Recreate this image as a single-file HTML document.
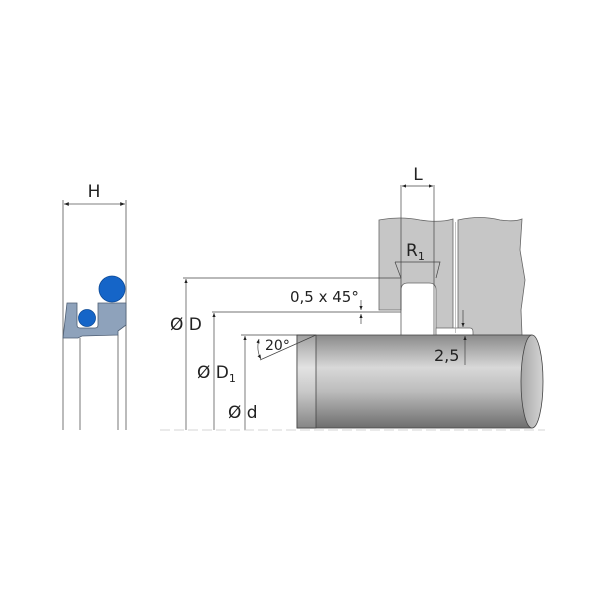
<!DOCTYPE html>
<html><head><style>body{margin:0;background:#fff}svg{display:block}text{font-family:"DejaVu Sans","Liberation Sans",sans-serif;fill:#222}</style></head>
<body>
<svg width="600" height="600" viewBox="0 0 600 600" xmlns="http://www.w3.org/2000/svg">
<defs>
<linearGradient id="g" x1="0" y1="0" x2="0" y2="1">
<stop offset="0" stop-color="#8a8a8a"/><stop offset="0.35" stop-color="#d8d8d8"/><stop offset="0.6" stop-color="#bdbdbd"/><stop offset="1" stop-color="#6e6e6e"/></linearGradient>
<linearGradient id="g2" x1="0" y1="0" x2="0" y2="1">
<stop offset="0" stop-color="#a0a0a0"/><stop offset="0.35" stop-color="#e2e2e2"/><stop offset="0.6" stop-color="#cacaca"/><stop offset="1" stop-color="#858585"/></linearGradient>
<linearGradient id="ge" x1="0" y1="0" x2="1" y2="0"><stop offset="0" stop-color="#a8a8a8"/><stop offset="1" stop-color="#d4d4d4"/></linearGradient>
<marker id="a" viewBox="0 0 10 10" refX="10" refY="5" markerWidth="6" markerHeight="6" orient="auto-start-reverse"><path d="M0,1L10,5L0,9z" fill="#222"/></marker>
</defs>
<g stroke="#555" stroke-width="0.8" fill="none">
<line x1="63" y1="200" x2="63" y2="430"/><line x1="126" y1="200" x2="126" y2="430"/>
<line x1="80" y1="338" x2="80" y2="430"/><line x1="118" y1="335" x2="118" y2="430"/>
<line x1="64" y1="204" x2="125" y2="204" marker-start="url(#a)" marker-end="url(#a)"/>
</g>
<text x="94" y="197" font-size="17" text-anchor="middle">H</text>
<path d="M67,303 L77,303 L77,325 Q77,328 80,328 L95,328 Q98,328 98,325 L98,303 L126,303 L126,325 L118,331 L118,335 L82,336 L78,338 L63,338 Z" fill="#8ea2bb" stroke="#4f5f74" stroke-width="0.8"/>
<circle cx="112" cy="289" r="13" fill="#1565c8" stroke="#0d4a96" stroke-width="0.8"/>
<circle cx="87" cy="318" r="8.5" fill="#1565c8" stroke="#0d4a96" stroke-width="0.8"/>
<path d="M379,220 Q400,216 420,220 Q440,223 453,219 L453,335 L436,335 L436,290 Q436,283 429,283 L408,283 Q401,283 401,290 L401,310 L379,310 Z" fill="#c6c6c6" stroke="#666" stroke-width="0.8"/>
<path d="M458,220 Q480,215 500,220 Q515,222 522,219 L520,250 L525,280 L521,310 L522,335 L458,335 Z" fill="#c6c6c6" stroke="#666" stroke-width="0.8"/>
<path d="M436,328 L470,328 Q473,328 473,332 L473,335 L436,335 Z" fill="#fff" stroke="#666" stroke-width="0.8"/>
<line x1="455.5" y1="222" x2="455.5" y2="333" stroke="#999" stroke-width="0.6"/>
<path d="M297,335 L532,335 L532,428 L297,428 Z" fill="url(#g)" stroke="#444" stroke-width="0.8"/>
<rect x="297" y="335" width="19" height="93" fill="url(#g2)" stroke="#444" stroke-width="0.8"/>
<ellipse cx="532" cy="381.5" rx="11" ry="46.5" fill="url(#ge)" stroke="#444" stroke-width="0.8"/>
<g stroke="#444" stroke-width="0.7" fill="none">
<line x1="183" y1="278" x2="401" y2="278"/>
<line x1="186" y1="430" x2="186" y2="279" marker-end="url(#a)"/>
<line x1="212" y1="312" x2="401" y2="312"/>
<line x1="214" y1="430" x2="214" y2="313" marker-end="url(#a)"/>
<line x1="241" y1="335" x2="316" y2="335"/>
<line x1="245" y1="430" x2="245" y2="336" marker-end="url(#a)"/>
<line x1="316" y1="335" x2="260" y2="360"/>
<path d="M259,339 Q256,350 261,359" marker-start="url(#a)" marker-end="url(#a)"/>
<line x1="361" y1="300" x2="361" y2="310" marker-end="url(#a)"/>
<line x1="361" y1="324" x2="361" y2="314" marker-end="url(#a)"/>
<line x1="401" y1="185" x2="401" y2="335"/><line x1="434" y1="185" x2="434" y2="335"/>
<line x1="402" y1="186" x2="433" y2="186" marker-start="url(#a)" marker-end="url(#a)"/>
<path d="M395,262 L440,262 L436,278 M395,262 L401,278" />
<line x1="463" y1="310" x2="463" y2="327" marker-end="url(#a)"/>
<line x1="465" y1="365" x2="465" y2="336" marker-end="url(#a)"/>
</g>
<line x1="160" y1="430" x2="545" y2="430" stroke="#c8c8c8" stroke-width="0.8" stroke-dasharray="10,4"/>
<text x="418" y="180" font-size="17" text-anchor="middle">L</text>
<text x="406" y="256" font-size="17">R<tspan font-size="11" dy="4">1</tspan></text>
<text x="290" y="302" font-size="15">0,5 x 45°</text>
<text x="265" y="350" font-size="14">20°</text>
<text x="434" y="361" font-size="16">2,5</text>
<text x="170" y="330" font-size="17">Ø D</text>
<text x="197" y="378" font-size="17">Ø D<tspan font-size="11" dy="4">1</tspan></text>
<text x="228" y="418" font-size="17">Ø d</text>
</svg>
</body></html>
